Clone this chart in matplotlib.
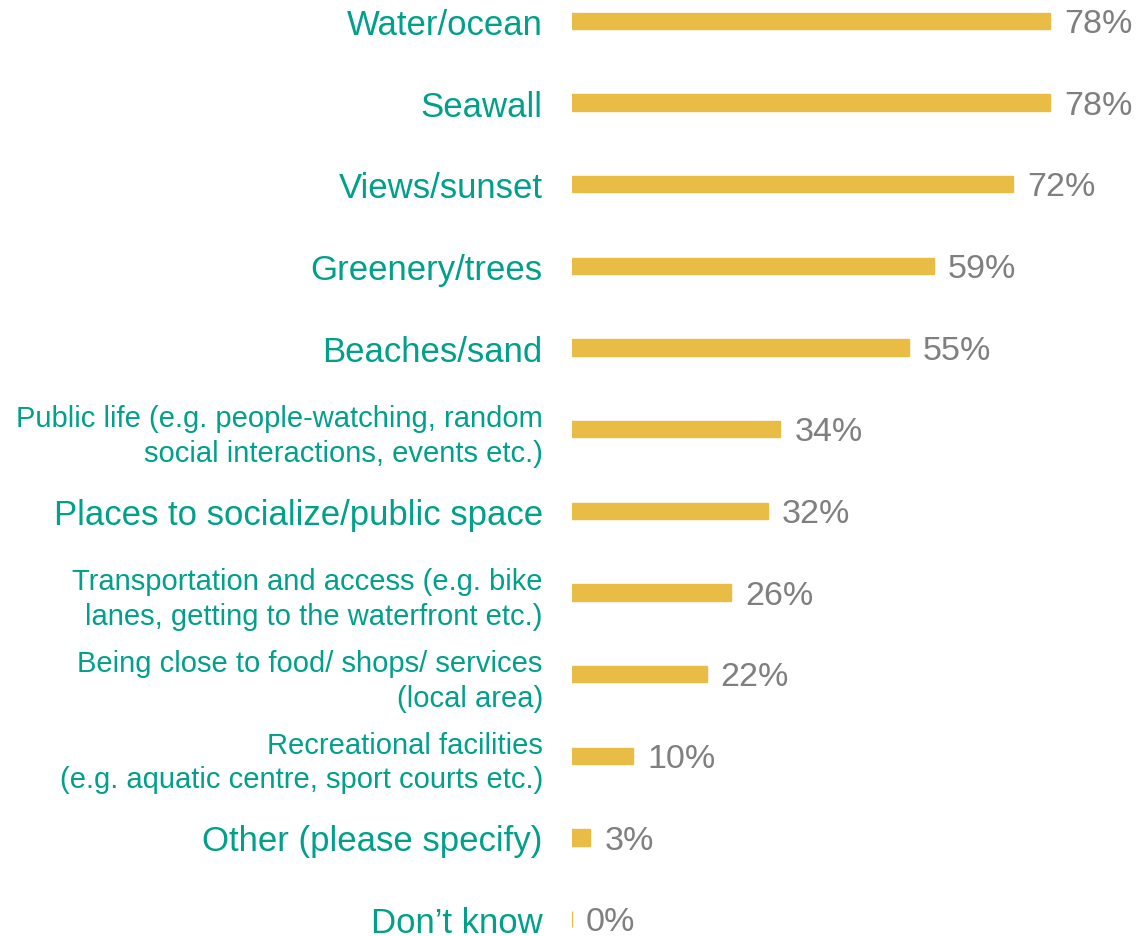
import matplotlib.pyplot as plt

plt.rcParams["font.family"] = ["Liberation Sans", "DejaVu Sans"]

# survey answers, top to bottom
categories = [
    "Water/ocean",
    "Seawall",
    "Views/sunset",
    "Greenery/trees",
    "Beaches/sand",
    "Public life (e.g. people-watching, random\nsocial interactions, events etc.)",
    "Places to socialize/public space",
    "Transportation and access (e.g. bike\nlanes, getting to the waterfront etc.)",
    "Being close to food/ shops/ services\n(local area)",
    "Recreational facilities\n(e.g. aquatic centre, sport courts etc.)",
    "Other (please specify)",
    "Don\u2019t know",
]
percent = [78, 78, 72, 59, 55, 34, 32, 26, 22, 10, 3, 0]

BAR_COLOR = "#E9BC45"
LABEL_COLOR = "#00A08A"
VALUE_COLOR = "#7F7F7F"

fig = plt.figure(figsize=(11.38, 9.37), dpi=100)
# axes starts where the bars start
ax = fig.add_axes([572 / 1138, 0, 1 - 572 / 1138, 1])

y = list(range(len(categories)))
ax.barh(y, percent, height=0.2, color=BAR_COLOR, edgecolor=BAR_COLOR, linewidth=1)

for yi, v in zip(y, percent):
    ax.annotate(f"{v}%", (v, yi), xytext=(10, -2), textcoords="offset points",
                va="center", ha="left", fontsize=24.5, color=VALUE_COLOR)

ax.set_xlim(0, 566 / 6.13)
ax.set_ylim((937 - 18) / 82, -22 / 82)

ax.set_yticks(y)
ax.set_yticklabels(categories)
ax.tick_params(axis="y", length=0, pad=21)
for lbl in ax.get_yticklabels():
    if "\n" in lbl.get_text():
        lbl.set_fontsize(21)
        lbl.set_linespacing(1.3)
    else:
        lbl.set_fontsize(25)
    lbl.set_color(LABEL_COLOR)

ax.set_xticks([])
for s in ax.spines.values():
    s.set_visible(False)

fig.savefig("out.png", dpi=100)
